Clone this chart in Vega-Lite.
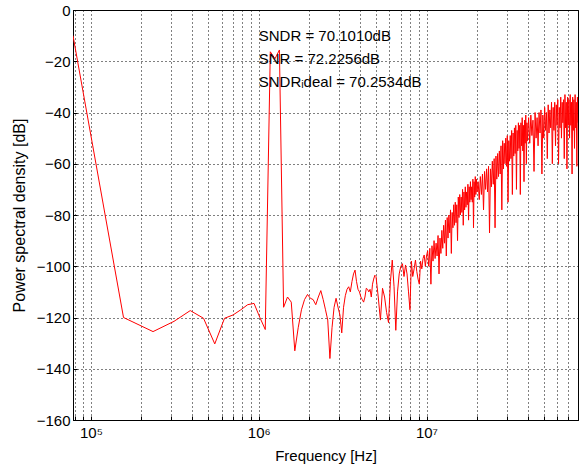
{
  "$schema": "https://vega.github.io/schema/vega-lite/v6.json",
  "autosize": {"type": "none"},
  "width": 505,
  "height": 410,
  "padding": {"left": 73, "top": 10, "right": 3, "bottom": 53},
  "background": "white",
  "config": {
    "view": {"stroke": "#000000", "strokeWidth": 1},
    "axis": {
      "labelFont": "Liberation Sans",
      "titleFont": "Liberation Sans",
      "labelColor": "#000000",
      "titleColor": "#000000",
      "titleFontWeight": "normal",
      "domainColor": "#000000",
      "tickColor": "#000000",
      "gridColor": "#000000",
      "gridOpacity": 1,
      "gridDash": [1, 3],
      "gridWidth": 1
    }
  },
  "datasets": {
    "psd": [
      {"f":78125,"p":-10},{"f":156250,"p":-120},{"f":234375,"p":-125.5},{"f":312500,"p":-121.5},{"f":390625,"p":-117.3},{"f":468750,"p":-120.3},{"f":546875,"p":-130.3},{"f":625000,"p":-120.3},{"f":703125,"p":-119},{"f":781250,"p":-117},
      {"f":859375,"p":-115},{"f":937500,"p":-114.5},{"f":1015625,"p":-120},{"f":1093750,"p":-124.7},{"f":1171875,"p":-16.3},{"f":1250000,"p":-19},{"f":1328125,"p":-15.6},{"f":1406250,"p":-116},{"f":1484375,"p":-112},{"f":1562500,"p":-114},
      {"f":1640625,"p":-133},{"f":1718750,"p":-124},{"f":1796875,"p":-117},{"f":1875000,"p":-113},{"f":1953125,"p":-111},{"f":2031250,"p":-112.5},{"f":2109375,"p":-113},{"f":2187500,"p":-115},{"f":2265625,"p":-112},{"f":2343750,"p":-109.5},
      {"f":2421875,"p":-113},{"f":2500000,"p":-117},{"f":2578125,"p":-121},{"f":2656250,"p":-136},{"f":2734375,"p":-124},{"f":2812500,"p":-116},{"f":2890625,"p":-112.5},{"f":2968750,"p":-116},{"f":3046875,"p":-119},{"f":3125000,"p":-126},
      {"f":3203125,"p":-116},{"f":3281250,"p":-111.5},{"f":3359375,"p":-109},{"f":3437500,"p":-108},{"f":3515625,"p":-110},{"f":3593750,"p":-106},{"f":3671875,"p":-103},{"f":3750000,"p":-101.5},{"f":3828125,"p":-106},{"f":3906250,"p":-109},
      {"f":3984375,"p":-110},{"f":4062500,"p":-112},{"f":4140625,"p":-113},{"f":4218750,"p":-114},{"f":4296875,"p":-112},{"f":4375000,"p":-108.6},{"f":4453125,"p":-109},{"f":4531250,"p":-110},{"f":4609375,"p":-109},{"f":4687500,"p":-112},
      {"f":4765625,"p":-107},{"f":4843750,"p":-105},{"f":4921875,"p":-103.5},{"f":5000000,"p":-104},
      {"f":5156250,"p":-112},{"f":5312500,"p":-121},{"f":5468750,"p":-108.6},{"f":5625000,"p":-112},{"f":5781250,"p":-118},{"f":5937500,"p":-122},{"f":6093750,"p":-106},{"f":6250000,"p":-97.6},
      {"f":6406250,"p":-108},{"f":6562500,"p":-125},{"f":6718750,"p":-110},{"f":6875000,"p":-103},{"f":7031250,"p":-100},{"f":7187500,"p":-99},{"f":7343750,"p":-104},{"f":7500000,"p":-99.5},
      {"f":7656250,"p":-103},{"f":7812500,"p":-110},{"f":7968750,"p":-117},{"f":8125000,"p":-98},{"f":8281250,"p":-104},{"f":8437500,"p":-101},{"f":8593750,"p":-97.6},{"f":8750000,"p":-102},
      {"f":8906250,"p":-105},{"f":9062500,"p":-107},{"f":9218750,"p":-98},{"f":9375000,"p":-101},{"f":9531250,"p":-97},{"f":9687500,"p":-95.6},{"f":9843750,"p":-100},{"f":10000000,"p":-96},
      {"f":10156250,"p":-94},{"f":10312500,"p":-100},{"f":10468750,"p":-93},{"f":10625000,"p":-107},{"f":10781250,"p":-92},{"f":10937500,"p":-98},{"f":11093750,"p":-90},{"f":11250000,"p":-97},
      {"f":11406250,"p":-91},{"f":11562500,"p":-96},{"f":11718750,"p":-88},{"f":11875000,"p":-103},{"f":12031250,"p":-89},{"f":12187500,"p":-95},{"f":12343750,"p":-86},{"f":12500000,"p":-93},
      {"f":12656250,"p":-84},{"f":12812500,"p":-91},{"f":12968750,"p":-82},{"f":13125000,"p":-96},{"f":13281250,"p":-81},{"f":13437500,"p":-89},{"f":13593750,"p":-80},{"f":13750000,"p":-87},
      {"f":13906250,"p":-78},{"f":14062500,"p":-95},{"f":14218750,"p":-79},{"f":14375000,"p":-85},{"f":14531250,"p":-76},{"f":14687500,"p":-84},{"f":14843750,"p":-75},{"f":15000000,"p":-83},
      {"f":15156250,"p":-76},{"f":15312500,"p":-90},{"f":15468750,"p":-73},{"f":15625000,"p":-81},{"f":15781250,"p":-72},{"f":15937500,"p":-80},{"f":16093750,"p":-73},{"f":16250000,"p":-79},
      {"f":16406250,"p":-70},{"f":16562500,"p":-84},{"f":16718750,"p":-71},{"f":16875000,"p":-78},{"f":17031250,"p":-69},{"f":17187500,"p":-77},{"f":17343750,"p":-71},{"f":17500000,"p":-76},
      {"f":17656250,"p":-68},{"f":17812500,"p":-82},{"f":17968750,"p":-69},{"f":18125000,"p":-75},{"f":18281250,"p":-67},{"f":18437500,"p":-74},{"f":18593750,"p":-69},{"f":18750000,"p":-75},
      {"f":18906250,"p":-66},{"f":19062500,"p":-85},{"f":19218750,"p":-67},{"f":19375000,"p":-73},{"f":19531250,"p":-65},{"f":19687500,"p":-72},{"f":19843750,"p":-66},{"f":20000000,"p":-71},
      {"f":20312500,"p":-67},{"f":20625000,"p":-74},{"f":20937500,"p":-65},{"f":21250000,"p":-72},{"f":21562500,"p":-64},{"f":21875000,"p":-78},{"f":22187500,"p":-63},{"f":22500000,"p":-70},
      {"f":22812500,"p":-62},{"f":23125000,"p":-71},{"f":23437500,"p":-61},{"f":23750000,"p":-87},{"f":24062500,"p":-62},{"f":24375000,"p":-69},{"f":24687500,"p":-59},{"f":25000000,"p":-68},
      {"f":25312500,"p":-58},{"f":25625000,"p":-85},{"f":25937500,"p":-57},{"f":26250000,"p":-66},{"f":26562500,"p":-56},{"f":26875000,"p":-65},{"f":27187500,"p":-55},{"f":27500000,"p":-64},
      {"f":27812500,"p":-53},{"f":28125000,"p":-78},{"f":28437500,"p":-51},{"f":28750000,"p":-62},{"f":29062500,"p":-52},{"f":29375000,"p":-60},{"f":29687500,"p":-50},{"f":30000000,"p":-61},
      {"f":30312500,"p":-49},{"f":30625000,"p":-75},{"f":30937500,"p":-51},{"f":31250000,"p":-59},{"f":31562500,"p":-49},{"f":31875000,"p":-58},{"f":32187500,"p":-47},{"f":32500000,"p":-72},
      {"f":32812500,"p":-48},{"f":33125000,"p":-57},{"f":33437500,"p":-46},{"f":33750000,"p":-56},{"f":34062500,"p":-45},{"f":34375000,"p":-70},{"f":34687500,"p":-47},{"f":35000000,"p":-55},
      {"f":35312500,"p":-44},{"f":35625000,"p":-54},{"f":35937500,"p":-45},{"f":36250000,"p":-72},{"f":36562500,"p":-44},{"f":36875000,"p":-53},{"f":37187500,"p":-42},{"f":37500000,"p":-55},
      {"f":37812500,"p":-45},{"f":38125000,"p":-67},{"f":38437500,"p":-43},{"f":38750000,"p":-52},{"f":39062500,"p":-41},{"f":39375000,"p":-60},{"f":39687500,"p":-44},{"f":40000000,"p":-51},
      {"f":40625000,"p":-42},{"f":41250000,"p":-52},{"f":41875000,"p":-41},{"f":42500000,"p":-49},{"f":43125000,"p":-43},{"f":43750000,"p":-63},{"f":44375000,"p":-40},{"f":45000000,"p":-50},
      {"f":45625000,"p":-42},{"f":46250000,"p":-53},{"f":46875000,"p":-40},{"f":47500000,"p":-48},{"f":48125000,"p":-39},{"f":48750000,"p":-64},{"f":49375000,"p":-41},{"f":50000000,"p":-50},
      {"f":50625000,"p":-38},{"f":51250000,"p":-47},{"f":51875000,"p":-40},{"f":52500000,"p":-58},{"f":53125000,"p":-37},{"f":53750000,"p":-48},{"f":54375000,"p":-39},{"f":55000000,"p":-46},
      {"f":55625000,"p":-36},{"f":56250000,"p":-60},{"f":56875000,"p":-38},{"f":57500000,"p":-47},{"f":58125000,"p":-36},{"f":58750000,"p":-53},{"f":59375000,"p":-37},{"f":60000000,"p":-45},
      {"f":60625000,"p":-35},{"f":61250000,"p":-60},{"f":61875000,"p":-38},{"f":62500000,"p":-46},{"f":63125000,"p":-34},{"f":63750000,"p":-50},{"f":64375000,"p":-36},{"f":65000000,"p":-44},
      {"f":65625000,"p":-35},{"f":66250000,"p":-58},{"f":66875000,"p":-33},{"f":67500000,"p":-46},{"f":68125000,"p":-36},{"f":68750000,"p":-62},{"f":69375000,"p":-34},{"f":70000000,"p":-45},
      {"f":70625000,"p":-35},{"f":71250000,"p":-50},{"f":71875000,"p":-33},{"f":72500000,"p":-45},{"f":73125000,"p":-36},{"f":73750000,"p":-64},{"f":74375000,"p":-34},{"f":75000000,"p":-47},
      {"f":75625000,"p":-35},{"f":76250000,"p":-54},{"f":76875000,"p":-33},{"f":77500000,"p":-46},{"f":78125000,"p":-36},{"f":78750000,"p":-61},{"f":79375000,"p":-34},{"f":80000000,"p":-44}
    ],
    "notes": [
      {"f":1000000,"p":-10,"label":"SNDR = 70.1010dB"},
      {"f":1000000,"p":-19,"label":"SNR = 72.2256dB"},
      {"f":1000000,"p":-28,"label":"SNDRᵢdeal = 70.2534dB"}
    ]
  },
  "layer": [
    {
      "data": {"name": "psd"},
      "mark": {"type": "line", "color": "#ff0000", "strokeWidth": 1, "clip": true},
      "encoding": {
        "x": {
          "field": "f", "type": "quantitative",
          "scale": {"type": "log", "domain": [78125, 80000000], "nice": false},
          "axis": {
            "title": "Frequency [Hz]",
            "titleFontSize": 15,
            "titlePadding": 8,
            "labelFontSize": 15,
            "labelPadding": 9,
            "labelOverlap": false,
            "labelFlush": false,
            "ticks": true,
            "tickSize": -4,
            "values": [80000, 90000, 100000, 200000, 300000, 400000, 500000, 600000, 700000, 800000, 900000, 1000000, 2000000, 3000000, 4000000, 5000000, 6000000, 7000000, 8000000, 9000000, 10000000, 20000000, 30000000, 40000000, 50000000, 60000000, 70000000, 80000000],
            "labelExpr": "datum.value == 100000 ? '10⁵' : datum.value == 1000000 ? '10⁶' : datum.value == 10000000 ? '10⁷' : ''"
          }
        },
        "y": {
          "field": "p", "type": "quantitative",
          "scale": {"domain": [-160, 0], "nice": false},
          "axis": {
            "title": "Power spectral density [dB]",
            "titleFontSize": 16,
            "titlePadding": 9,
            "labelFontSize": 15,
            "labelPadding": 7,
            "ticks": true,
            "tickSize": -4,
            "values": [-160, -140, -120, -100, -80, -60, -40, -20, 0]
          }
        }
      }
    },
    {
      "data": {"name": "notes"},
      "mark": {"type": "text", "align": "left", "baseline": "middle", "font": "Liberation Sans", "fontSize": 15, "color": "#000000"},
      "encoding": {
        "x": {"field": "f", "type": "quantitative"},
        "y": {"field": "p", "type": "quantitative"},
        "text": {"field": "label", "type": "nominal"}
      }
    }
  ]
}
